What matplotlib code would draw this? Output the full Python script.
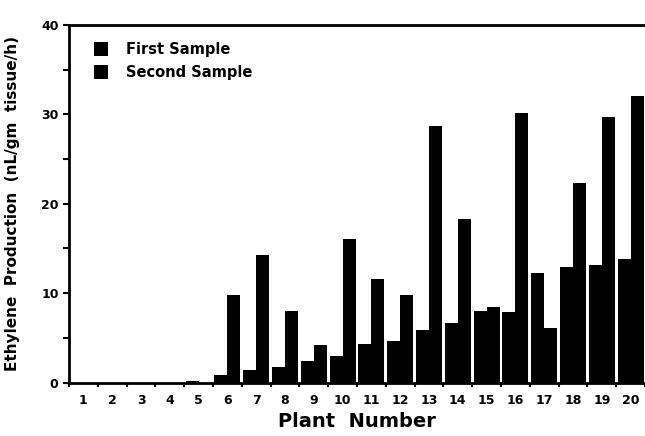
import numpy as np
import matplotlib.pyplot as plt

plants = [str(i) for i in range(1, 21)]
first = [0, 0, 0, 0, 0.2, 0.8, 1.4, 1.7, 2.4, 3.0,
         4.3, 4.6, 5.9, 6.7, 8.0, 7.9, 12.2, 12.9, 13.2, 13.8]
second = [0, 0, 0, 0, 0, 9.8, 14.3, 8.0, 4.2, 16.1,
          11.6, 9.8, 28.7, 18.3, 8.4, 30.1, 6.1, 22.3, 29.7, 32.0]

fig = plt.figure(figsize=(6.45, 4.36), dpi=100)
ax = fig.add_axes([0.107, 0.1227, 0.893, 0.82])

x = np.arange(len(plants)) + 0.5
w = 0.45
b1 = ax.bar(x - w / 2, first, w, color='black', label='First Sample')
b2 = ax.bar(x + w / 2, second, w, color='black', label='Second Sample')

ax.set_xlim(0, 19.79)
ax.set_ylim(0, 40)

ax.set_xticks(np.arange(0, 21), minor=False)
ax.set_xticklabels([])
ax.set_xticks(x, minor=True)
ax.set_xticklabels(plants, minor=True, fontsize=9, fontweight='bold')
ax.tick_params(axis='x', which='major', length=3, width=1.5, direction='out')
ax.tick_params(axis='x', which='minor', length=0, pad=8)

ax.set_yticks([0, 10, 20, 30, 40])
ax.set_yticklabels(['0', '10', '20', '30', '40'], fontsize=9, fontweight='bold')
ax.set_yticks([5, 15, 25, 35], minor=True)
ax.tick_params(axis='y', which='both', length=4, width=1.5, direction='out')

for s in ['left', 'top', 'bottom']:
    ax.spines[s].set_linewidth(2)
ax.spines['right'].set_visible(False)

ax.set_xlabel('Plant  Number', fontsize=14, fontweight='bold', labelpad=4)
ax.set_ylabel('Ethylene  Production  (nL/gm  tissue/h)', fontsize=11, fontweight='bold')
ax.yaxis.set_label_coords(-0.085, 0.5)

ax.legend(handles=[b1, b2], loc='upper left', bbox_to_anchor=(0.02, 0.99), frameon=False,
          prop={'weight': 'bold', 'size': 10.5}, handlelength=1.0, handleheight=1.1,
          handletextpad=1.2, labelspacing=0.6)

fig.savefig('out.png', dpi=100)
